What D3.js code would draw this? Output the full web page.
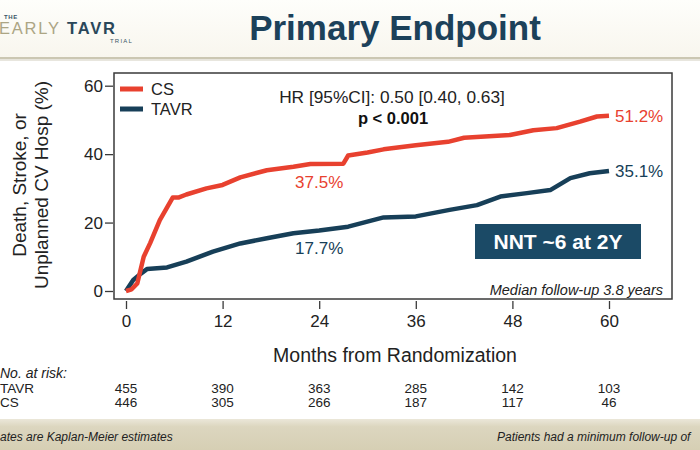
<!DOCTYPE html>
<html>
<head>
<meta charset="utf-8">
<script src="https://cdn.jsdelivr.net/npm/d3@7"></script>
<style>
  body { margin: 0; background: #fff; }
  svg { display: block; font-family: "Liberation Sans", Arial, sans-serif; }
</style>
</head>
<body>
<div id="chart"></div>
<script>
// Kaplan-Meier curves (months, cumulative %)
const csMonths   = [0, 0.7, 1.4, 2.2, 3, 4.2, 5, 5.8, 6.5, 7.5, 10, 12, 14.2, 17.5, 20.8, 22.9, 27, 27.6, 30, 32, 36, 40, 42, 47.7, 50.6, 53.5, 56.4, 58.5, 60];
const csValues   = [0, 0.5, 2.2, 10, 14, 20.7, 24, 27.3, 27.3, 28.2, 30, 31, 33.2, 35.3, 36.3, 37.1, 37.2, 39.6, 40.5, 41.4, 42.6, 43.6, 44.8, 45.6, 47, 47.6, 49.5, 51, 51.2];
const tavrMonths = [0, 0.9, 1.8, 2.6, 5.1, 7.5, 10.8, 14.2, 17.5, 20.8, 24, 27.6, 32, 36, 40.2, 43.6, 46.5, 49.8, 52.7, 55.2, 57.6, 60];
const tavrValues = [0, 3.2, 5, 6.4, 6.9, 8.6, 11.5, 13.9, 15.4, 16.9, 17.7, 18.8, 21.5, 21.8, 23.7, 25.1, 27.6, 28.6, 29.5, 33, 34.4, 35.1];

const xTicks = [0, 12, 24, 36, 48, 60];
const yTicks = [0, 20, 40, 60];
const riskTavr = [455, 390, 363, 285, 142, 103];
const riskCs   = [446, 305, 266, 187, 117, 46];

const RED = '#e8412f';
const NAVY = '#173f58';

const svg = d3.select('#chart').append('svg')
  .attr('width', 700)
  .attr('height', 450);

// header band
const defs = svg.append('defs');
const hg = defs.append('linearGradient').attr('id', 'hdr').attr('x1', 0).attr('x2', 0).attr('y1', 0).attr('y2', 1);
hg.append('stop').attr('offset', '0%').attr('stop-color', '#fefefb');
hg.append('stop').attr('offset', '100%').attr('stop-color', '#f8f6ee');
const fg = defs.append('linearGradient').attr('id', 'ftr').attr('x1', 0).attr('x2', 0).attr('y1', 0).attr('y2', 1);
fg.append('stop').attr('offset', '0%').attr('stop-color', '#ebe7d9');
fg.append('stop').attr('offset', '25%').attr('stop-color', '#dcd6bf');
fg.append('stop').attr('offset', '100%').attr('stop-color', '#d6cfb4');

svg.append('rect').attr('x', 0).attr('y', 0).attr('width', 700).attr('height', 57).attr('fill', 'url(#hdr)');
svg.append('rect').attr('x', 0).attr('y', 57).attr('width', 700).attr('height', 2.5).attr('fill', '#cbc7b2');
svg.append('rect').attr('x', 0).attr('y', 59.5).attr('width', 700).attr('height', 1.5).attr('fill', '#e8e6de');

// logo
svg.append('text').attr('x', 4).attr('y', 19).attr('font-size', 6).attr('font-weight', 'bold')
  .attr('fill', '#3a5566').attr('letter-spacing', 0.6).text('THE');
const logo = svg.append('text').attr('x', -1).attr('y', 34).attr('font-size', 16.5).attr('letter-spacing', 1.8);
logo.append('tspan').attr('fill', '#aca584').text('EARLY ');
logo.append('tspan').attr('fill', '#2a475a').attr('font-weight', 'bold').text('TAVR');
svg.append('text').attr('x', 133).attr('y', 43).attr('text-anchor', 'end').attr('font-size', 6)
  .attr('fill', '#3a5566').attr('letter-spacing', 1.2).text('TRIAL');

// title
svg.append('text')
  .attr('x', 395).attr('y', 40)
  .attr('text-anchor', 'middle')
  .attr('font-size', 35).attr('font-weight', 'bold')
  .attr('fill', '#1c415a')
  .text('Primary Endpoint');

// plot
const x = d3.scaleLinear().domain([0, 60]).range([126, 609]);
const y = d3.scaleLinear().domain([0, 60]).range([291, 85.7]);

svg.append('rect')
  .attr('x', 114).attr('y', 73).attr('width', 558).attr('height', 226)
  .attr('fill', '#fff').attr('stroke', '#3a3a3a').attr('stroke-width', 1.5);

const yAxis = svg.append('g')
  .attr('transform', 'translate(113,0)')
  .call(d3.axisLeft(y).tickValues(yTicks).tickSize(8).tickPadding(2));
yAxis.select('.domain').remove();

const xAxis = svg.append('g')
  .attr('transform', 'translate(0,301)')
  .call(d3.axisBottom(x).tickValues(xTicks).tickSize(8).tickPadding(6));
xAxis.select('.domain').remove();

svg.selectAll('.tick line').attr('stroke', '#3a3a3a').attr('stroke-width', 1.3);
svg.selectAll('.tick text').attr('font-size', 17).attr('fill', '#222')
  .attr('font-family', '"Liberation Sans", Arial, sans-serif');

// y label
const yl = svg.append('text')
  .attr('transform', 'translate(0,185) rotate(-90)')
  .attr('text-anchor', 'middle')
  .attr('font-size', 19).attr('fill', '#222');
yl.append('tspan').attr('x', 0).attr('y', 26).text('Death, Stroke, or');
yl.append('tspan').attr('x', 0).attr('y', 48).text('Unplanned CV Hosp (%)');

// curves
const line = d3.line()
  .x(d => x(d[0]))
  .y(d => y(d[1]));

const tavrData = tavrMonths.map((m, i) => [m, tavrValues[i]]);
const csData = csMonths.map((m, i) => [m, csValues[i]]);

svg.append('path').datum(tavrData)
  .attr('fill', 'none').attr('stroke', NAVY).attr('stroke-width', 4.5)
  .attr('stroke-linejoin', 'round').attr('d', line);
svg.append('path').datum(csData)
  .attr('fill', 'none').attr('stroke', RED).attr('stroke-width', 4.5)
  .attr('stroke-linejoin', 'round').attr('d', line);

// legend
[['CS', RED, 89], ['TAVR', NAVY, 109]].forEach(([name, col, ly]) => {
  svg.append('line').attr('x1', 120).attr('x2', 143).attr('y1', ly).attr('y2', ly)
    .attr('stroke', col).attr('stroke-width', 5);
  svg.append('text').attr('x', 151).attr('y', ly).attr('dy', '0.36em')
    .attr('font-size', 16.5).attr('fill', '#222').text(name);
});

// annotations
svg.append('text').attr('x', 392).attr('y', 97).attr('dy', '0.36em')
  .attr('text-anchor', 'middle').attr('font-size', 17.3).attr('fill', '#222')
  .text('HR [95%CI]: 0.50 [0.40, 0.63]');
svg.append('text').attr('x', 393).attr('y', 118).attr('dy', '0.36em')
  .attr('text-anchor', 'middle').attr('font-size', 16.5).attr('font-weight', 'bold').attr('fill', '#111')
  .text('p < 0.001');

svg.append('text').attr('x', x(60) + 6).attr('y', y(51.2)).attr('dy', '0.36em')
  .attr('font-size', 17).attr('fill', RED).text('51.2%');
svg.append('text').attr('x', x(60) + 6).attr('y', y(35.1)).attr('dy', '0.36em')
  .attr('font-size', 17).attr('fill', NAVY).text('35.1%');
svg.append('text').attr('x', x(24)).attr('y', y(32)).attr('dy', '0.36em')
  .attr('text-anchor', 'middle').attr('font-size', 17).attr('fill', RED).text('37.5%');
svg.append('text').attr('x', x(24)).attr('y', y(12.6)).attr('dy', '0.36em')
  .attr('text-anchor', 'middle').attr('font-size', 17).attr('fill', NAVY).text('17.7%');

// NNT box
svg.append('rect').attr('x', 475).attr('y', 224).attr('width', 166).attr('height', 35).attr('fill', '#1b4a66');
svg.append('text').attr('x', 558).attr('y', 241.5).attr('dy', '0.36em')
  .attr('text-anchor', 'middle').attr('font-size', 21).attr('font-weight', 'bold').attr('fill', '#fff')
  .text('NNT ~6 at 2Y');

svg.append('text').attr('x', 663).attr('y', 290).attr('dy', '0.36em')
  .attr('text-anchor', 'end').attr('font-size', 14.5).attr('font-style', 'italic').attr('fill', '#222')
  .text('Median follow-up 3.8 years');

// x label
svg.append('text').attr('x', 395).attr('y', 362)
  .attr('text-anchor', 'middle').attr('font-size', 19.5).attr('fill', '#222')
  .text('Months from Randomization');

// number at risk
svg.append('text').attr('x', 0).attr('y', 373).attr('dy', '0.36em')
  .attr('font-size', 14).attr('font-style', 'italic').attr('fill', '#222').text('No. at risk:');
svg.append('text').attr('x', 0).attr('y', 388).attr('dy', '0.36em')
  .attr('font-size', 13.5).attr('fill', '#222').text('TAVR');
svg.append('text').attr('x', 0).attr('y', 402).attr('dy', '0.36em')
  .attr('font-size', 13.5).attr('fill', '#222').text('CS');

svg.selectAll('.risk-tavr').data(riskTavr).enter().append('text')
  .attr('x', (d, i) => x(xTicks[i])).attr('y', 388).attr('dy', '0.36em')
  .attr('text-anchor', 'middle').attr('font-size', 13.5).attr('fill', '#222').text(d => d);
svg.selectAll('.risk-cs').data(riskCs).enter().append('text')
  .attr('x', (d, i) => x(xTicks[i])).attr('y', 402).attr('dy', '0.36em')
  .attr('text-anchor', 'middle').attr('font-size', 13.5).attr('fill', '#222').text(d => d);

// footer band
svg.append('rect').attr('x', 0).attr('y', 419).attr('width', 700).attr('height', 31).attr('fill', 'url(#ftr)');
svg.append('text').attr('x', 0).attr('y', 437).attr('dy', '0.36em')
  .attr('font-size', 12).attr('font-style', 'italic').attr('fill', '#222')
  .text('ates are Kaplan-Meier estimates');
svg.append('text').attr('x', 497).attr('y', 437).attr('dy', '0.36em')
  .attr('font-size', 12).attr('font-style', 'italic').attr('fill', '#222')
  .text('Patients had a minimum follow-up of');
</script>
</body>
</html>
